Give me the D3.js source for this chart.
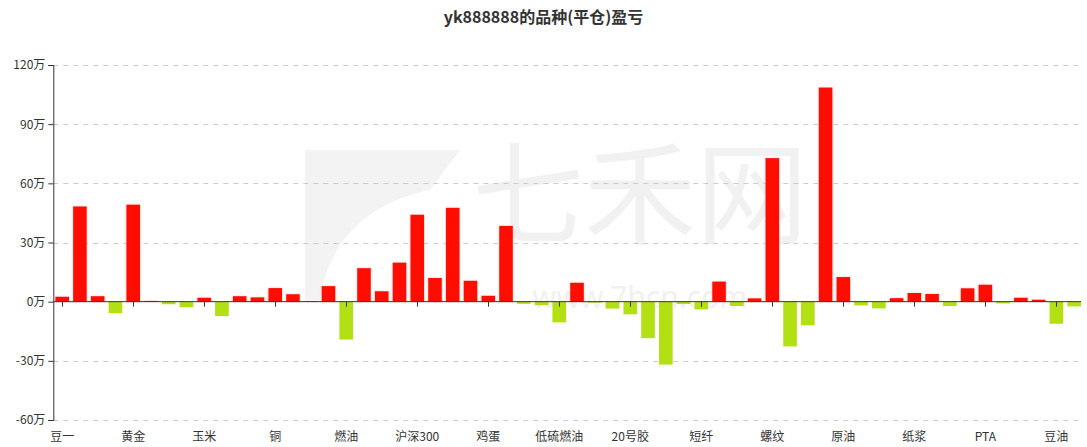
<!DOCTYPE html>
<html><head><meta charset="utf-8">
<script src="https://cdn.jsdelivr.net/npm/d3@7/dist/d3.min.js"></script>
<style>body{margin:0;background:#fff}svg{display:block}</style>
</head><body>
<svg id="c" width="1087" height="447"></svg>
<script>
const title = "yk888888的品种(平仓)盈亏";
const categories = ["豆一","豆粕","白银","棉花","黄金","白糖","菜粕","菜油","玉米","淀粉","铝","锌","铜","镍","锡","沥青",
 "燃油","焦炭","焦煤","铁矿石","沪深300","上证50","中证500","苹果","鸡蛋","红枣","生猪","花生","低硫燃油","液化气","甲醇","乙二醇",
 "20号胶","橡胶","纯碱","玻璃","短纤","苯乙烯","塑料","聚丙烯","螺纹","热卷","不锈钢","硅铁","原油","锰硅","尿素","棕榈油",
 "纸浆","线材","PVC","动力煤","PTA","棉纱","豆二","菜籽","豆油","国债"];
const values = [2.5,48.3,2.8,-5.8,49.2,0.4,-1.3,-2.8,2.0,-7.3,2.8,2.2,6.9,3.8,0.3,7.9,
 -19.2,17.0,5.3,19.8,44.1,12.0,47.6,10.6,3.0,38.4,-1.1,-1.8,-10.5,9.6,-0.5,-3.5,
 -6.4,-18.5,-31.9,-1.2,-3.9,10.2,-2.2,1.7,72.8,-22.7,-12.0,108.6,12.5,-1.9,-3.4,1.8,
 4.4,3.9,-2.2,6.8,8.6,-0.9,2.0,1.0,-11.2,-2.4];
const yTicks = [-60,-30,0,30,60,90,120];

const svg = d3.select("#c");
const W = 1087, H = 447;
const m = {left:53.3, right:4, top:65, bottom:27};
const x = d3.scaleBand().domain(categories).range([m.left, W - m.right]).paddingInner(0.23).paddingOuter(0.115);
const y = d3.scaleLinear().domain([-60,120]).range([H - m.bottom, m.top]);

// watermark
svg.append("text").attr("fill","#f1f1f1").attr("text-anchor","middle").attr("x",640).attr("y",236)
  .attr("font-family","Noto Sans CJK SC").attr("font-size",112).text("七禾网");
svg.append("text").attr("fill","#f1f1f1").attr("text-anchor","middle").attr("x",640).attr("y",308)
  .attr("font-family","Noto Sans").attr("font-size",30).text("www.7hcn.com");
svg.append("path").attr("d","M305,150 L460,150 L430,190 C380,200 330,230 320,300 L305,300 Z").attr("fill","#f3f3f3");

// title
svg.append("text").attr("x",543.5).attr("y",23).attr("text-anchor","middle")
  .attr("font-family","Noto Sans CJK SC").attr("font-weight","bold").attr("font-size",16)
  .attr("fill","#333").text(title);

// grid
svg.append("g").selectAll("line").data(yTicks.filter(d=>d!==0)).join("line")
  .attr("x1",m.left).attr("x2",W - m.right - 2).attr("y1",d=>Math.round(y(d))+0.5).attr("y2",d=>Math.round(y(d))+0.5)
  .attr("stroke","#ccc").attr("stroke-dasharray","5,5");

// y axis
const ya = svg.append("g").attr("transform",`translate(${m.left},0)`)
  .call(d3.axisLeft(y).tickValues(yTicks).tickSize(5).tickPadding(3).tickFormat(d=>d+"万"));
ya.select(".domain").attr("stroke","#333");
ya.selectAll(".tick line").attr("stroke","#333");
ya.selectAll("text").attr("font-family","Noto Sans CJK SC").attr("font-size",12).attr("fill","#333");

// filter
const defs = svg.append("defs");
const f = defs.append("filter").attr("id","glow").attr("x","-30%").attr("y","-30%").attr("width","160%").attr("height","160%");
f.append("feGaussianBlur").attr("in","SourceAlpha").attr("stdDeviation",1.2).attr("result","b");
f.append("feFlood").attr("flood-color","#ff8080").attr("flood-opacity",0.5);
f.append("feComposite").attr("in2","b").attr("operator","in").attr("result","s");
const fm = f.append("feMerge"); fm.append("feMergeNode").attr("in","s"); fm.append("feMergeNode").attr("in","SourceGraphic");

// bars
svg.append("g").selectAll("rect").data(values).join("rect")
  .attr("x",(d,i)=>x(categories[i])).attr("width",x.bandwidth())
  .attr("y",d=>y(Math.max(0,d))).attr("height",d=>Math.abs(y(d)-y(0)))
  .attr("fill",d=>d>=0?"#ff1100":"#b3e013")
  .attr("filter",d=>d>=0?"url(#glow)":null);

// x axis at zero
const xa = svg.append("g").attr("transform",`translate(0,${y(0)})`);
xa.append("line").attr("x1",m.left).attr("x2",W - m.right - 2).attr("stroke","#333");
const shown = categories.filter((c,i)=>i%4===0);
xa.selectAll(".tk").data(shown).join("line").attr("class","tk")
  .attr("x1",d=>Math.round(x(d)+x.bandwidth()/2)+0.5).attr("x2",d=>Math.round(x(d)+x.bandwidth()/2)+0.5)
  .attr("y1",0).attr("y2",5).attr("stroke","#333");
svg.append("g").selectAll("text").data(shown).join("text")
  .attr("x",d=>x(d)+x.bandwidth()/2).attr("y",H-6).attr("text-anchor","middle")
  .attr("font-family","Noto Sans CJK SC").attr("font-size",12).attr("fill","#333").text(d=>d);
</script>
</body></html>
